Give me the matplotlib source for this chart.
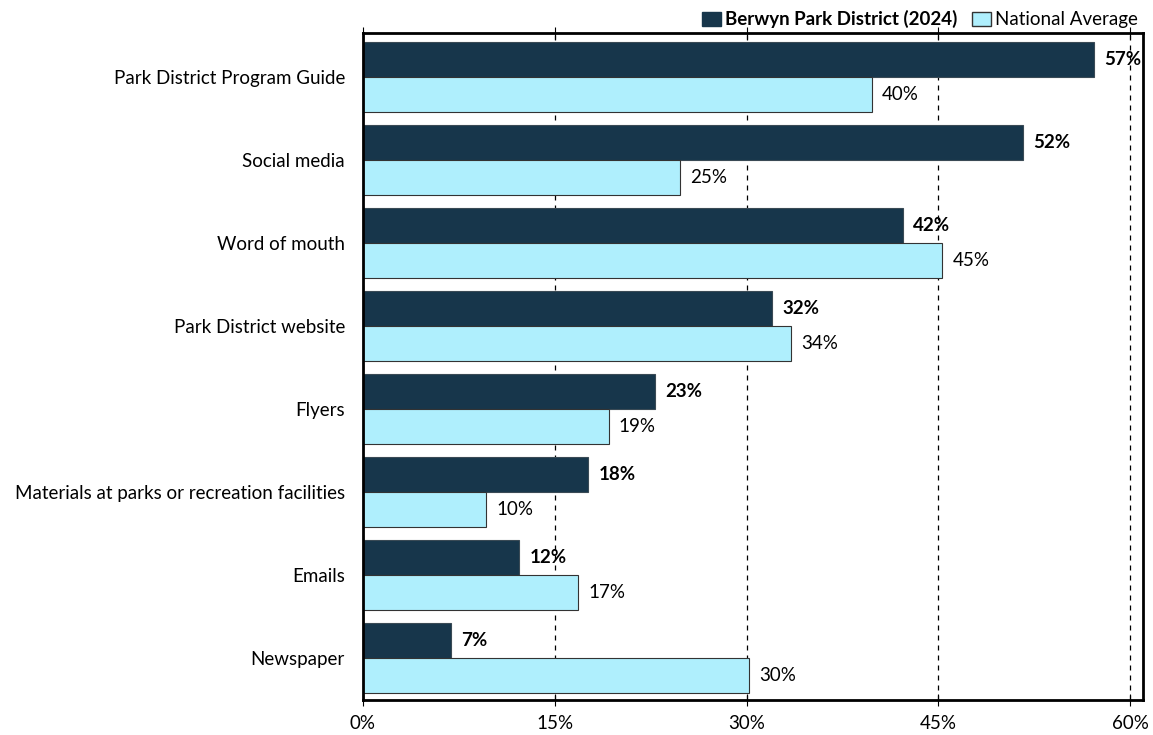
import numpy as np
import matplotlib.pyplot as plt
from matplotlib.patches import Patch
import matplotlib.ticker as ticker

plt.rcParams['font.family'] = ['Lato', 'DejaVu Sans']

categories = ["Park District Program Guide", "Social media", "Word of mouth",
              "Park District website", "Flyers",
              "Materials at parks or recreation facilities", "Emails", "Newspaper"]
berwyn = [57.2, 51.6, 42.2, 32.0, 22.8, 17.6, 12.2, 6.9]
national = [39.8, 24.8, 45.3, 33.5, 19.2, 9.6, 16.8, 30.2]
x_ticks = [0, 15, 30, 45, 60]

DARK = "#17364B"
LIGHT = "#AFEFFD"
FS = 13.5


def main():
    fig = plt.figure(figsize=(11.53, 7.35), dpi=100)
    ax = fig.add_axes([363 / 1153, 35 / 735, 780 / 1153, 667 / 735])

    y = np.arange(len(categories))
    h = 0.42
    ax.barh(y - h / 2, berwyn, height=h, color=DARK, edgecolor="#3a4a55", lw=0.8, zorder=3)
    ax.barh(y + h / 2, national, height=h, color=LIGHT, edgecolor="#333333", lw=0.8, zorder=3)

    for i, (b, n) in enumerate(zip(berwyn, national)):
        ax.text(b + 0.8, y[i] - h / 2, f"{b:.0f}%", va="center", ha="left",
                fontsize=FS, fontweight="bold", color="black", zorder=4)
        ax.text(n + 0.8, y[i] + h / 2, f"{n:.0f}%", va="center", ha="left",
                fontsize=FS, color="black", zorder=4)

    ax.set_xlim(0, 61)
    ax.set_ylim(7.51, -0.53)
    ax.set_yticks(y)
    ax.set_yticklabels(categories, fontsize=FS)
    ax.set_xticks(x_ticks)
    ax.xaxis.set_major_formatter(ticker.FuncFormatter(lambda v, p: f"{v:.0f}%"))
    ax.tick_params(axis="x", labelsize=FS, top=True, direction="inout", length=8, pad=7)
    ax.tick_params(axis="y", length=0, pad=13)
    ax.grid(axis="x", linestyle=(0, (4, 4)), color="black", lw=0.9, zorder=0)
    for s in ax.spines.values():
        s.set_linewidth(2)
        s.set_zorder(5)

    handles = [Patch(facecolor=DARK, edgecolor=DARK),
               Patch(facecolor=LIGHT, edgecolor="#333333")]
    leg = ax.legend(handles, ["Berwyn Park District (2024)", "National Average"],
                    loc="lower right", bbox_to_anchor=(1.005, 0.993), ncol=2, frameon=False,
                    fontsize=FS, handlelength=1.0, handleheight=0.75, handletextpad=0.2,
                    columnspacing=0.8, borderaxespad=0.1)
    leg.get_texts()[0].set_fontweight("bold")

    plt.savefig("out.png", dpi=100)


if __name__ == "__main__":
    main()
